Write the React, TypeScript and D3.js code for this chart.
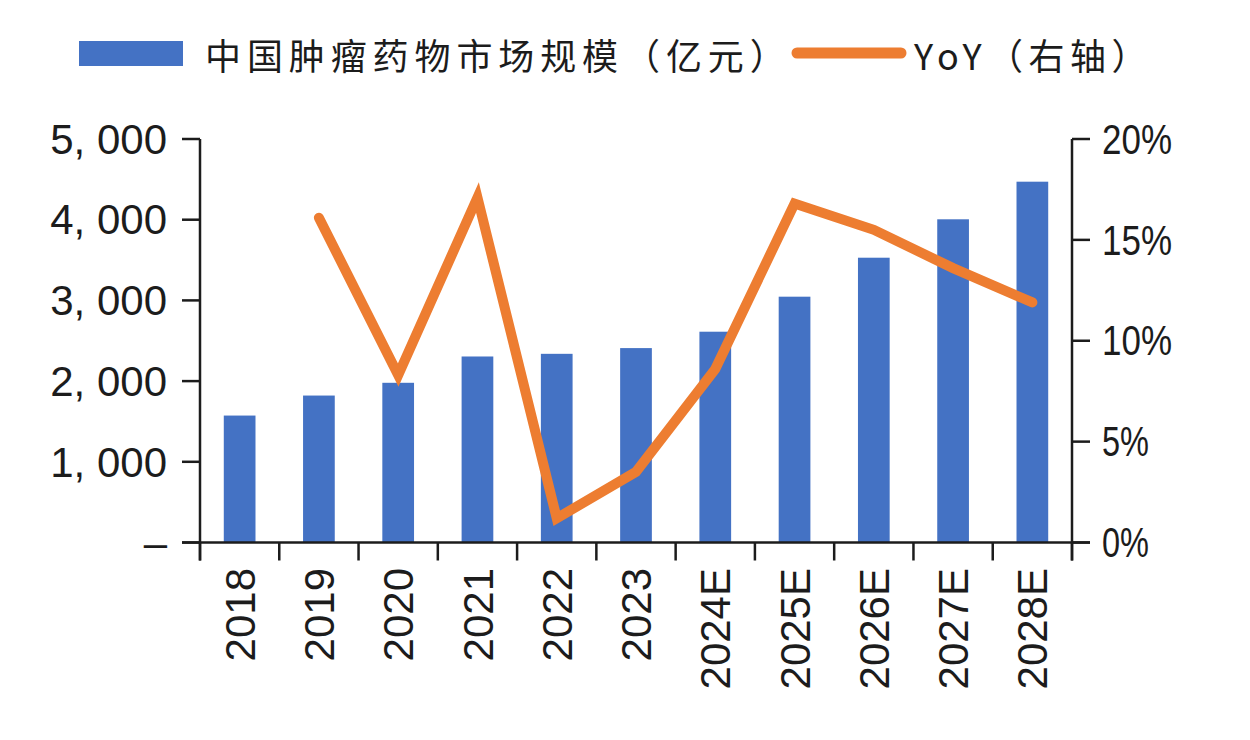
import * as d3 from "d3";

// ── Data ──────────────────────────────────────────────────────
const YEARS = ["2018", "2019", "2020", "2021", "2022", "2023", "2024E", "2025E", "2026E", "2027E", "2028E"];
// 中国肿瘤药物市场规模（亿元）
const MARKET = [1573, 1821, 1979, 2305, 2338, 2409, 2612, 3046, 3529, 4005, 4471];
// YoY (%), no value for 2018
const YOY: (number | null)[] = [null, 16.1, 8.3, 17.1, 1.2, 3.5, 8.6, 16.8, 15.5, 13.6, 11.9];
const LEFT_TICKS = [0, 1000, 2000, 3000, 4000, 5000];
const RIGHT_TICKS = [0, 5, 10, 15, 20];

// ── Geometry ──────────────────────────────────────────────────
const W = 1250;
const H = 740;
const X0 = 200;
const X1 = 1072;
const Y_BASE = 542.5;
const Y_TOP = 139;
const TICK = 18;
const BLUE = "#4472C4";
const ORANGE = "#ED7D31";
const INK = "#1c1c1c";
const FONT = "'Liberation Sans', Arial, sans-serif";
const CJK = "'Noto Sans CJK SC', sans-serif";

const x = d3.scaleBand<string>().domain(YEARS).range([X0, X1]).paddingInner(0.6).paddingOuter(0.3);
const yL = d3.scaleLinear().domain([0, 5000]).range([Y_BASE, Y_TOP]);
const yR = d3.scaleLinear().domain([0, 20]).range([Y_BASE, Y_TOP]);

const fmtLeft = (v: number) => (v === 0 ? "–" : d3.format(",")(v).replace(",", ", "));

export default function App() {
  const pts = YEARS.map((yr, i) => ({ yr, v: YOY[i] })).filter((d) => d.v !== null) as { yr: string; v: number }[];
  const line = d3
    .line<{ yr: string; v: number }>()
    .x((d) => (x(d.yr) as number) + x.bandwidth() / 2)
    .y((d) => yR(d.v));

  return (
    <svg width={W} height={H} style={{ position: "absolute", left: 0, top: 0, background: "#fff" }}>
      {/* Legend */}
      <rect x={79} y={41} width={104} height={25} fill={BLUE} />
      <text x={205} y={54} dominantBaseline="central" fontFamily={CJK} fontSize={36}
        letterSpacing={5.9} fill={INK}>
        中国肿瘤药物市场规模（亿元）
      </text>
      <line x1={797} x2={901} y1={53} y2={53} stroke={ORANGE} strokeWidth={11} strokeLinecap="round" />
      <text x={914} y={54} dominantBaseline="central" fontFamily={CJK} fontSize={36}
        letterSpacing={5.5} fill={INK}>
        YoY（右轴）
      </text>

      {/* Bars */}
      {YEARS.map((yr, i) => (
        <rect key={yr} x={x(yr)} y={yL(MARKET[i])} width={x.bandwidth()}
          height={Y_BASE - yL(MARKET[i])} fill={BLUE} />
      ))}

      {/* Axes */}
      <g stroke={INK} strokeWidth={2.5} fill="none">
        <line x1={X0} x2={X0} y1={Y_TOP} y2={Y_BASE + TICK} />
        <line x1={X1} x2={X1} y1={Y_TOP} y2={Y_BASE + TICK} />
        <line x1={X0 - TICK} x2={X1 + TICK} y1={Y_BASE} y2={Y_BASE} />
        {LEFT_TICKS.map((t) => (
          <line key={`lt-${t}`} x1={X0 - TICK} x2={X0} y1={yL(t)} y2={yL(t)} />
        ))}
        {RIGHT_TICKS.map((t) => (
          <line key={`rt-${t}`} x1={X1} x2={X1 + TICK} y1={yR(t)} y2={yR(t)} />
        ))}
        {d3.range(YEARS.length + 1).map((i) => {
          const xx = X0 + (i * (X1 - X0)) / YEARS.length;
          return <line key={`ct-${i}`} x1={xx} x2={xx} y1={Y_BASE} y2={Y_BASE + TICK} />;
        })}
      </g>

      {/* YoY line */}
      <path d={line(pts) ?? ""} fill="none" stroke={ORANGE} strokeWidth={10}
        strokeLinecap="round" strokeLinejoin="miter" />

      {/* Tick labels */}
      <g fontFamily={FONT} fontSize={42} fill={INK}>
        {LEFT_TICKS.map((t) => (
          <text key={`ll-${t}`} x={167} y={yL(t)} textAnchor="end" dy="0.35em">
            {fmtLeft(t)}
          </text>
        ))}
        {RIGHT_TICKS.map((t) => {
          const s = `${t}%`;
          return (
            <text key={`rl-${t}`} x={1102} y={yR(t)} dy="0.35em"
              textLength={s.length === 3 ? 70 : 47} lengthAdjust="spacingAndGlyphs">
              {s}
            </text>
          );
        })}
        {YEARS.map((yr) => {
          const cx = (x(yr) as number) + x.bandwidth() / 2;
          return (
            <text key={`xl-${yr}`} transform={`translate(${cx},568) rotate(-90)`}
              textAnchor="end" dy="0.36em">
              {yr}
            </text>
          );
        })}
      </g>
    </svg>
  );
}
